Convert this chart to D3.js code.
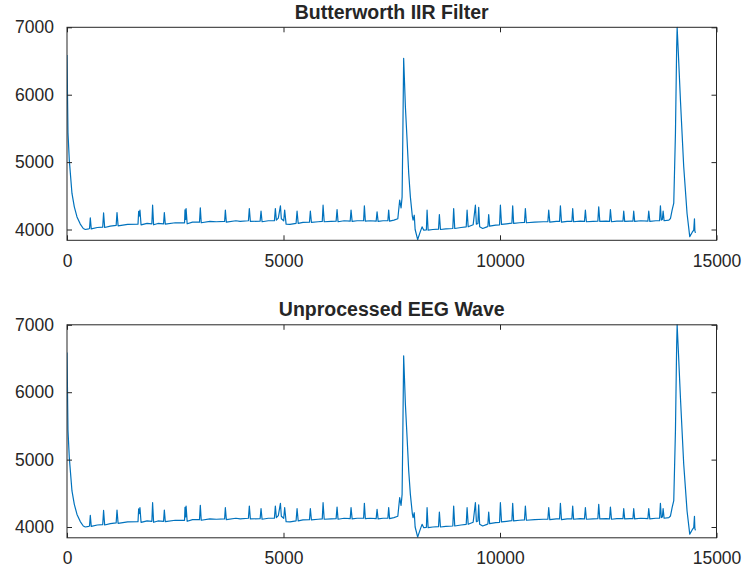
<!DOCTYPE html>
<html>
<head>
<meta charset="utf-8">
<script src="https://cdn.jsdelivr.net/npm/d3@7/dist/d3.min.js"></script>
<style>
  html, body { margin: 0; padding: 0; background: #ffffff; }
  svg { display: block; }
  text { font-family: "Liberation Sans", Arial, Helvetica, sans-serif; fill: #262626; }
</style>
</head>
<body>
<svg id="chart" width="755" height="567"></svg>
<script>
// Recorded EEG trace: sample index and amplitude
const sampleIndex = [
  0, 23, 53, 115, 169, 231, 307, 376, 423, 499, 520, 538, 560, 700, 825, 845, 870,
  1000, 1135, 1155, 1180, 1400, 1640, 1655, 1670, 1685, 1710, 1850, 1960, 1977, 2000,
  2100, 2230, 2248, 2270, 2500, 2715, 2725, 2740, 2750, 2775, 2900, 3060, 3079, 3100,
  3300, 3450, 3640, 3657, 3680, 3900, 4000, 4190, 4211, 4235, 4460, 4481, 4505, 4650,
  4790, 4812, 4835, 4880, 4929, 4950, 5005, 5027, 5060, 5150, 5290, 5313, 5340, 5450,
  5600, 5620, 5645, 5800, 5895, 5914, 5940, 6100, 6215, 6237, 6260, 6400, 6540, 6560,
  6585, 6700, 6850, 6868, 6890, 7000, 7140, 7161, 7185, 7300, 7410, 7429, 7450, 7550,
  7640, 7683, 7715, 7739, 7755, 7775, 7815, 7854, 7892, 7930, 7975, 7993, 8020, 8040,
  8099, 8150, 8200, 8240, 8300, 8316, 8340, 8450, 8580, 8600, 8625, 8750, 8910, 8930,
  8955, 9100, 9220, 9240, 9265, 9380, 9432, 9455, 9490, 9508, 9530, 9600, 9700, 9720,
  9739, 9760, 9900, 9990, 10009, 10035, 10150, 10275, 10293, 10315, 10450, 10565, 10586,
  10610, 10800, 11000, 11105, 11125, 11150, 11300, 11375, 11395, 11420, 11550, 11660,
  11679, 11700, 11850, 11950, 11972, 11995, 12150, 12260, 12280, 12305, 12450, 12530,
  12550, 12575, 12700, 12840, 12857, 12880, 13000, 13070, 13088, 13110, 13250, 13415,
  13435, 13460, 13600, 13685, 13705, 13725, 13750, 13767, 13790, 13900, 13936, 13975,
  14013, 14052, 14080, 14091, 14120, 14167, 14243, 14320, 14382, 14440, 14474, 14491,
  14500, 14514
];
const eegAmplitude = [
  6590, 5430, 5030, 4535, 4336, 4187, 4080, 4015, 4000, 4010, 4015, 4172, 4010, 4030, 4035, 4246, 4030,
  4050, 4060, 4252, 4055, 4075, 4080, 4270, 4200, 4287, 4070, 4090, 4085, 4361, 4070,
  4090, 4085, 4252, 4080, 4100, 4100, 4290, 4150, 4312, 4085, 4110, 4110, 4321, 4100,
  4120, 4115, 4120, 4287, 4110, 4130, 4120, 4130, 4312, 4120, 4125, 4272, 4115, 4130,
  4130, 4312, 4140, 4170, 4351, 4160, 4130, 4287, 4080, 4075, 4090, 4272, 4090, 4105,
  4110, 4272, 4105, 4115, 4120, 4361, 4115, 4120, 4125, 4297, 4115, 4130, 4125, 4287,
  4120, 4130, 4130, 4351, 4125, 4130, 4125, 4262, 4120, 4130, 4130, 4287, 4125, 4140,
  4160, 4435, 4320, 4484, 5330, 6541, 5822, 5327, 4832, 4484, 4200, 4138, 4212, 4000,
  3851, 3950, 4039, 3990, 3995, 4287, 3990, 4000, 4005, 4222, 4000, 4010, 4015, 4312,
  4015, 4030, 4040, 4287, 4040, 4070, 4361, 4080, 4090, 4330, 4040, 4015, 4040, 4045,
  4222, 4050, 4065, 4070, 4361, 4075, 4085, 4095, 4351, 4090, 4100, 4105, 4312,
  4100, 4110, 4115, 4115, 4287, 4110, 4120, 4120, 4351, 4110, 4120, 4120,
  4312, 4115, 4125, 4120, 4287, 4115, 4120, 4125, 4336, 4120, 4125, 4120,
  4297, 4115, 4125, 4125, 4272, 4120, 4125, 4125, 4272, 4120, 4130, 4125,
  4272, 4120, 4130, 4130, 4351, 4140, 4150, 4272, 4130, 4140, 4163, 4287,
  4390, 5430, 6700, 7000, 6600, 5920, 4930, 4238, 3895, 3960, 3990, 4160,
  3980, 3950
];

const panelTitles = ["Butterworth IIR Filter", "Unprocessed EEG Wave"];
const xTickValues = [0, 5000, 10000, 15000];
const yTickValues = [4000, 5000, 6000, 7000];
const xDomain = [0, 15000];
const yDomain = [3840, 7000];

const points = sampleIndex.map((s, i) => ({ s, v: eegAmplitude[i] }));

const svg = d3.select("#chart");
const axisColor = "#262626";
const lineColor = "#0072BD";
const plainNumber = d3.format("d");

const left = 67, right = 716.5, panelHeight = 213;
const panelTops = [27.3, 324.8];

const x = d3.scaleLinear().domain(xDomain).range([left, right]);

panelTops.forEach((top, k) => {
  const bottom = top + panelHeight;
  const y = d3.scaleLinear().domain(yDomain).range([bottom, top]);
  const g = svg.append("g");

  const clipId = "clip" + k;
  svg.append("clipPath").attr("id", clipId)
    .append("rect")
    .attr("x", left).attr("y", top - 1)
    .attr("width", right - left).attr("height", panelHeight + 1);

  // trace
  const line = d3.line().x(d => x(d.s)).y(d => y(d.v));
  g.append("path")
    .datum(points)
    .attr("clip-path", `url(#${clipId})`)
    .attr("fill", "none")
    .attr("stroke", lineColor)
    .attr("stroke-width", 1.2)
    .attr("stroke-linejoin", "round")
    .attr("d", line);

  // axes with inward ticks on all four sides
  const tickLen = 5;
  const bottomAxis = d3.axisBottom(x).tickValues(xTickValues).tickFormat(plainNumber)
    .tickSizeInner(-tickLen).tickSizeOuter(0).tickPadding(14);
  const topAxis = d3.axisTop(x).tickValues(xTickValues).tickSizeInner(-tickLen).tickSizeOuter(0).tickFormat("");
  const leftAxis = d3.axisLeft(y).tickValues(yTickValues).tickFormat(plainNumber)
    .tickSizeInner(-tickLen).tickSizeOuter(0).tickPadding(13);
  const rightAxis = d3.axisRight(y).tickValues(yTickValues).tickSizeInner(-tickLen).tickSizeOuter(0).tickFormat("");

  const styleAxis = sel => {
    sel.select(".domain").remove();
    sel.selectAll(".tick line").attr("stroke", axisColor).attr("stroke-width", 1);
    sel.selectAll(".tick text")
      .attr("fill", axisColor)
      .style("font-size", "17.5px")
      .style("font-family", '"Liberation Sans", Arial, Helvetica, sans-serif');
  };

  g.append("g").attr("transform", `translate(0,${bottom})`).call(bottomAxis).call(styleAxis);
  g.append("g").attr("transform", `translate(0,${top})`).call(topAxis).call(styleAxis);
  g.append("g").attr("transform", `translate(${left},0)`).call(leftAxis).call(styleAxis);
  g.append("g").attr("transform", `translate(${right},0)`).call(rightAxis).call(styleAxis);

  g.append("rect")
    .attr("x", left).attr("y", top)
    .attr("width", right - left).attr("height", panelHeight)
    .attr("fill", "none")
    .attr("stroke", axisColor)
    .attr("stroke-width", 1);

  g.append("text")
    .attr("x", (left + right) / 2)
    .attr("y", top - 8.5)
    .attr("text-anchor", "middle")
    .style("font-size", "19.5px")
    .style("font-weight", "bold")
    .text(panelTitles[k]);
});
</script>
</body>
</html>
